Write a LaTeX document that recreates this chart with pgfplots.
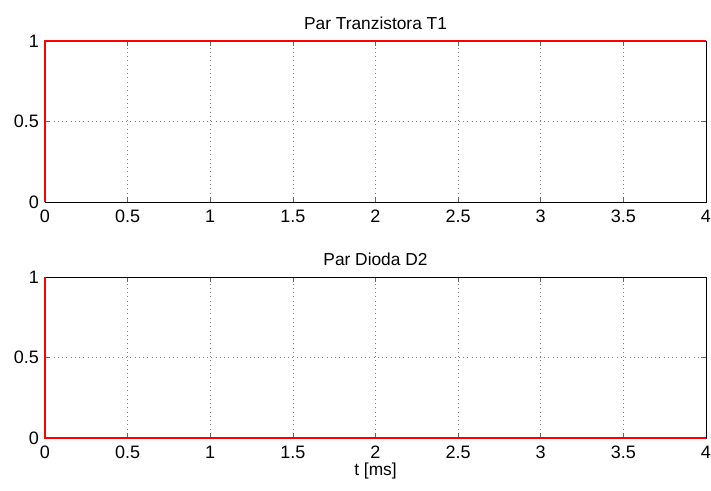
\documentclass[border=0pt]{standalone}
\usepackage{pgfplots}
\pgfplotsset{compat=1.18}
\usepackage{fontspec}
\setmainfont{Liberation Sans}
\begin{document}
\begin{tikzpicture}
\path[use as bounding box] (0pt,0pt) rectangle (533.25pt,367.5pt);
\pgfplotsset{
  myax/.style={
    scale only axis, width=495.75pt, height=120.75pt,
    xmin=0, xmax=4, ymin=0, ymax=1,
    xtick={0,0.5,...,4}, ytick={0,0.5,1},
    xticklabels={0,0.5,1,1.5,2,2.5,3,3.5,4},
    yticklabels={0,0.5,1},
    tick align=inside, major tick length=4pt,
    tick style={black!60, line width=0.5pt},
    xtick pos=both, ytick pos=both,
    grid=major,
    major grid style={black!50, line width=0.5pt, dash pattern=on 0.6pt off 2.6pt},
    axis line style={black, line width=0.6pt},
    ticklabel style={font=\fontsize{13.5}{15}\selectfont},
    /pgf/number format/assume math mode=true,
    title style={font=\fontsize{13}{15}\selectfont, yshift=-1pt},
    label style={font=\fontsize{13}{15}\selectfont},
    clip=false,
    xticklabel style={yshift=-2.5pt},
    yticklabel style={xshift=-1pt},
  }
}
\begin{axis}[myax, at={(33.75pt,216pt)}, anchor=south west, title={Par Tranzistora T1}]
\addplot[red, line width=0.9pt] coordinates {(0,0) (0,1) (4,1)};
\end{axis}
\begin{axis}[myax, at={(33.75pt,39pt)}, anchor=south west, title={Par Dioda D2}, xlabel={t [ms]}, xlabel style={yshift=3.5pt}]
\addplot[red, line width=0.9pt] coordinates {(0,1) (0,0) (4,0)};
\end{axis}
\end{tikzpicture}
\end{document}
